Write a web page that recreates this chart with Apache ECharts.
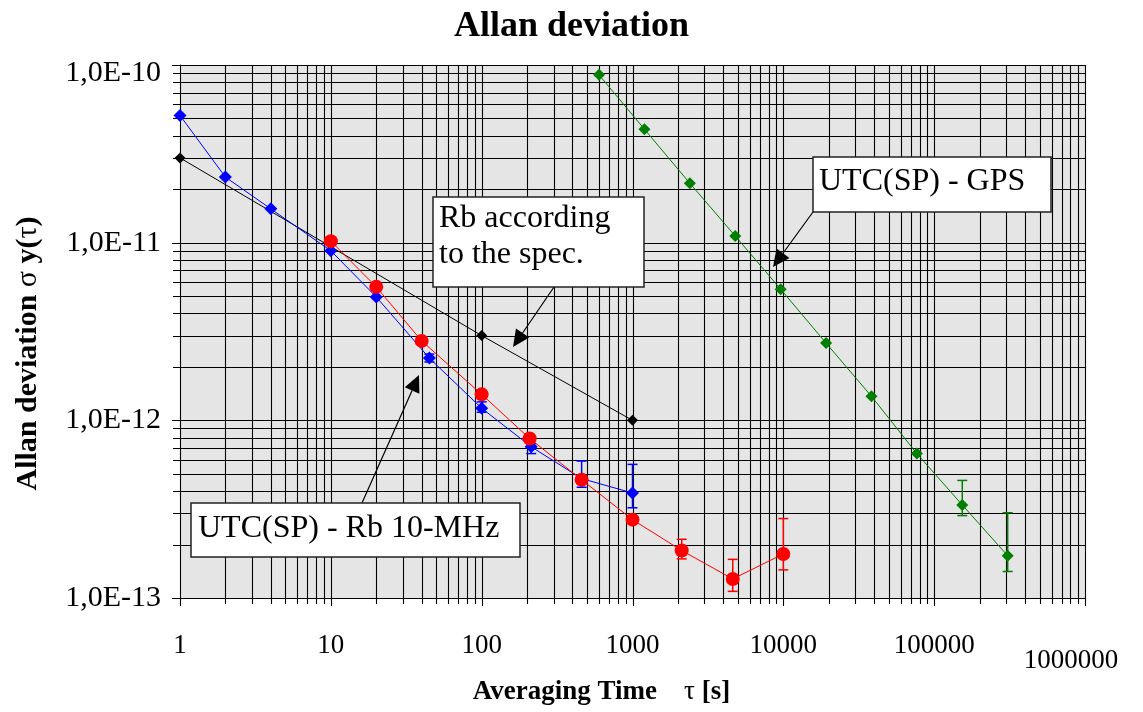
<!DOCTYPE html>
<html><head><meta charset="utf-8">
<script src="https://cdn.jsdelivr.net/npm/echarts@6/dist/echarts.min.js"></script>
<style>html,body{margin:0;padding:0;background:#fff}#c{width:1143px;height:712px}</style>
</head><body><div id="c"></div>
<script>
// ---- data ----
const blueTau   = [1, 2, 4, 10, 20, 45, 100, 213, 460, 1000];
const blueSigma = [5.2e-11, 2.34e-11, 1.55e-11, 9.0e-12, 4.95e-12, 2.24e-12, 1.17e-12, 7.1e-13, 4.7e-13, 3.9e-13];
const blueErrTau = [45, 100, 213, 460, 1000];
const blueErrLo  = [2.13e-12, 1.11e-12, 6.5e-13, 4.2e-13, 3.22e-13];
const blueErrHi  = [2.36e-12, 1.27e-12, 7.4e-13, 5.9e-13, 5.65e-13];

const redTau   = [10, 20, 40, 100, 208, 460, 1000, 2120, 4620, 10000];
const redSigma = [1.02e-11, 5.64e-12, 2.8e-12, 1.4e-12, 7.9e-13, 4.63e-13, 2.76e-13, 1.85e-13, 1.28e-13, 1.77e-13];
const redErrTau = [2120, 4620, 10000];
const redErrLo  = [1.66e-13, 1.09e-13, 1.44e-13];
const redErrHi  = [2.14e-13, 1.65e-13, 2.8e-13];

const specTau   = [1, 100, 1000];
const specSigma = [3.0e-11, 3.0e-12, 1.0e-12];

const gpsTau   = [600, 1200, 2400, 4800, 9600, 19200, 38400, 76800, 153600, 307200];
const gpsSigma = [8.8e-11, 4.35e-11, 2.16e-11, 1.09e-11, 5.47e-12, 2.72e-12, 1.365e-12, 6.5e-13, 3.34e-13, 1.73e-13];
const gpsErrTau = [153600, 307200];
const gpsErrLo  = [2.91e-13, 1.41e-13];
const gpsErrHi  = [4.59e-13, 3.02e-13];

const xMin = 1, xMax = 1e6, yMin = 1e-13, yMax = 1e-10;
const xDecades = [0, 1, 2, 3, 4, 5];
const yDecades = [-13, -12, -11];
const mantissas = [1, 2, 3, 4, 5, 6, 7, 8, 9];

// grid line positions (1..9 x 10^k)
const xGrid = [];
xDecades.forEach(k => mantissas.forEach(m => xGrid.push([m * Math.pow(10, k), yMin, m === 1 ? 1 : 0])));
xGrid.push([xMax, yMin, 1]);
const yGrid = [];
yDecades.forEach(k => mantissas.forEach(m => yGrid.push([xMin, m * Math.pow(10, k), m === 1 ? 1 : 0])));
yGrid.push([xMin, yMax, 1]);

const zip = (a, b) => a.map((v, i) => [v, b[i]]);
const zip3 = (a, b, c) => a.map((v, i) => [v, b[i], c[i]]);

const FONT = 'Liberation Serif';

const chart = echarts.init(document.getElementById('c'), null, {renderer: 'canvas'});

function vGrid(params, api) {
  const x = api.value(0);
  const major = api.value(2) === 1;
  const t = api.coord([x, yMax]);
  const b = api.coord([x, yMin]);
  const px = Math.round(t[0]) + 0.5;
  return {type: 'line', shape: {x1: px, y1: t[1], x2: px, y2: b[1] + (major ? 8 : 6)},
          style: {stroke: '#000', lineWidth: 1.1}};
}
function hGrid(params, api) {
  const y = api.value(1);
  const major = api.value(2) === 1;
  const l = api.coord([xMin, y]);
  const r = api.coord([xMax, y]);
  const py = Math.round(l[1]) + 0.5;
  return {type: 'line', shape: {x1: l[0] - (major ? 8 : 7), y1: py, x2: r[0], y2: py},
          style: {stroke: '#000', lineWidth: 1.1}};
}
function errBar(color) {
  return function (params, api) {
    const x = api.value(0);
    const lo = api.coord([x, api.value(1)]);
    const hi = api.coord([x, api.value(2)]);
    const w = 5;
    return {type: 'group', children: [
      {type: 'line', shape: {x1: lo[0], y1: lo[1], x2: hi[0], y2: hi[1]}, style: {stroke: color, lineWidth: 1.5}},
      {type: 'line', shape: {x1: lo[0] - w, y1: lo[1], x2: lo[0] + w, y2: lo[1]}, style: {stroke: color, lineWidth: 1.5}},
      {type: 'line', shape: {x1: hi[0] - w, y1: hi[1], x2: hi[0] + w, y2: hi[1]}, style: {stroke: color, lineWidth: 1.5}}
    ]};
  };
}

function arrow(x1, y1, x2, y2) {
  const dx = x2 - x1, dy = y2 - y1, L = Math.sqrt(dx * dx + dy * dy);
  const ux = dx / L, uy = dy / L, len = 17, hw = 8;
  const bx = x2 - ux * len, by = y2 - uy * len;
  return [
    {type: 'line', shape: {x1: x1, y1: y1, x2: bx, y2: by}, style: {stroke: '#000', lineWidth: 1.2}, z: 100},
    {type: 'polygon', shape: {points: [[x2, y2], [bx - uy * hw, by + ux * hw], [bx + uy * hw, by - ux * hw]]},
     style: {fill: '#000'}, z: 100}
  ];
}
function box(x, y, w, h, txt, tx, ty) {
  return [
    {type: 'rect', shape: {x: x, y: y, width: w, height: h}, style: {fill: '#fff', stroke: '#222', lineWidth: 1.5}, z: 100},
    {type: 'text', x: tx, y: ty, style: {text: txt, font: '32px "Liberation Serif"', fill: '#000', lineHeight: 36,
      verticalAlign: 'top', align: 'left'}, z: 101}
  ];
}

const graphics = [].concat(
  arrow(554, 287, 513, 347),
  arrow(362, 503, 419, 375),
  arrow(813, 212, 773, 267),
  box(433, 197, 211, 90, 'Rb according\nto the spec.', 439, 201),
  box(813, 157, 238, 55, 'UTC(SP) - GPS', 819, 164),
  box(191, 503, 329, 54, 'UTC(SP) - Rb 10-MHz', 198, 511)
);

chart.setOption({
  animation: false,
  backgroundColor: '#fff',
  textStyle: {fontFamily: FONT},
  title: {text: 'Allan deviation', left: 'center', top: 4,
    textStyle: {fontFamily: FONT, fontWeight: 'bold', fontSize: 36, color: '#000'}},
  grid: {left: 180, right: 58, top: 65, bottom: 114, show: true, backgroundColor: '#e5e5e5', borderWidth: 0},
  xAxis: {
    type: 'log', logBase: 10, min: xMin, max: xMax,
    name: '{b|Averaging Time}{r|    τ }{b|[s]}', nameLocation: 'middle', nameGap: 78,
    nameTextStyle: {fontFamily: FONT, fontSize: 27, padding: [0, 62, 0, 0], rich: {
      b: {fontFamily: FONT, fontWeight: 'bold', fontSize: 27, color: '#000'},
      r: {fontFamily: FONT, fontWeight: 'normal', fontSize: 27, color: '#000'}}},
    axisLine: {show: true, lineStyle: {color: '#000', width: 1}},
    axisTick: {show: false}, splitLine: {show: false},
    axisLabel: {margin: 34, color: '#000', fontFamily: FONT, fontSize: 27, showMinLabel: true, showMaxLabel: true,
      formatter: v => { const r = Math.round(v); return r >= 1e6 ? '{big|' + r + '}' : String(r); },
      rich: {big: {fontFamily: FONT, fontSize: 27, color: '#000', padding: [15, 28, 0, 0]}}}
  },
  yAxis: {
    type: 'log', logBase: 10, min: yMin, max: yMax,
    name: '{b|Allan deviation }{r|σ }{b|y(}{r|τ}{b|)}', nameLocation: 'middle', nameGap: 137, nameRotate: 90,
    nameTextStyle: {fontFamily: FONT, fontSize: 30, padding: [0, 44, 0, 0], rich: {
      b: {fontFamily: FONT, fontWeight: 'bold', fontSize: 30, color: '#000'},
      r: {fontFamily: FONT, fontWeight: 'normal', fontSize: 30, color: '#000'}}},
    axisLine: {show: true, lineStyle: {color: '#000', width: 1}},
    axisTick: {show: false}, splitLine: {show: false},
    axisLabel: {margin: 19, color: '#000', fontFamily: FONT, fontSize: 30, showMinLabel: true, showMaxLabel: true,
      formatter: v => { const e = Math.round(Math.log10(v)); const s = '1,0E-' + String(-e).padStart(2, '0');
        return e === -10 ? '{top|' + s + '}' : s; },
      rich: {top: {fontFamily: FONT, fontSize: 30, color: '#000', padding: [16, 0, 0, 0]}}}
  },
  series: [
    {type: 'custom', name: 'vgrid', data: xGrid, renderItem: vGrid, clip: false, silent: true, z: 1},
    {type: 'custom', name: 'hgrid', data: yGrid, renderItem: hGrid, clip: false, silent: true, z: 1},
    {type: 'line', name: 'Rb spec', data: zip(specTau, specSigma), symbol: 'diamond', symbolSize: 11,
      itemStyle: {color: '#000'}, lineStyle: {color: '#000', width: 1}, z: 3},
    {type: 'custom', name: 'gpsErr', data: zip3(gpsErrTau, gpsErrLo, gpsErrHi), renderItem: errBar('#007f00'), z: 4},
    {type: 'line', name: 'UTC(SP) - GPS', data: zip(gpsTau, gpsSigma), symbol: 'diamond', symbolSize: 12,
      itemStyle: {color: '#007f00'}, lineStyle: {color: '#007f00', width: 1}, z: 5},
    {type: 'custom', name: 'blueErr', data: zip3(blueErrTau, blueErrLo, blueErrHi), renderItem: errBar('#0000ff'), z: 4},
    {type: 'line', name: 'UTC(SP) - Rb 10-MHz (1)', data: zip(blueTau, blueSigma), symbol: 'diamond', symbolSize: 13,
      itemStyle: {color: '#0000ff'}, lineStyle: {color: '#0000ff', width: 1}, z: 5},
    {type: 'custom', name: 'redErr', data: zip3(redErrTau, redErrLo, redErrHi), renderItem: errBar('#ff0000'), z: 4},
    {type: 'line', name: 'UTC(SP) - Rb 10-MHz (2)', data: zip(redTau, redSigma), symbol: 'circle', symbolSize: 14,
      itemStyle: {color: '#ff0000'}, lineStyle: {color: '#ff0000', width: 1}, z: 6}
  ],
  graphic: graphics
});
</script></body></html>
